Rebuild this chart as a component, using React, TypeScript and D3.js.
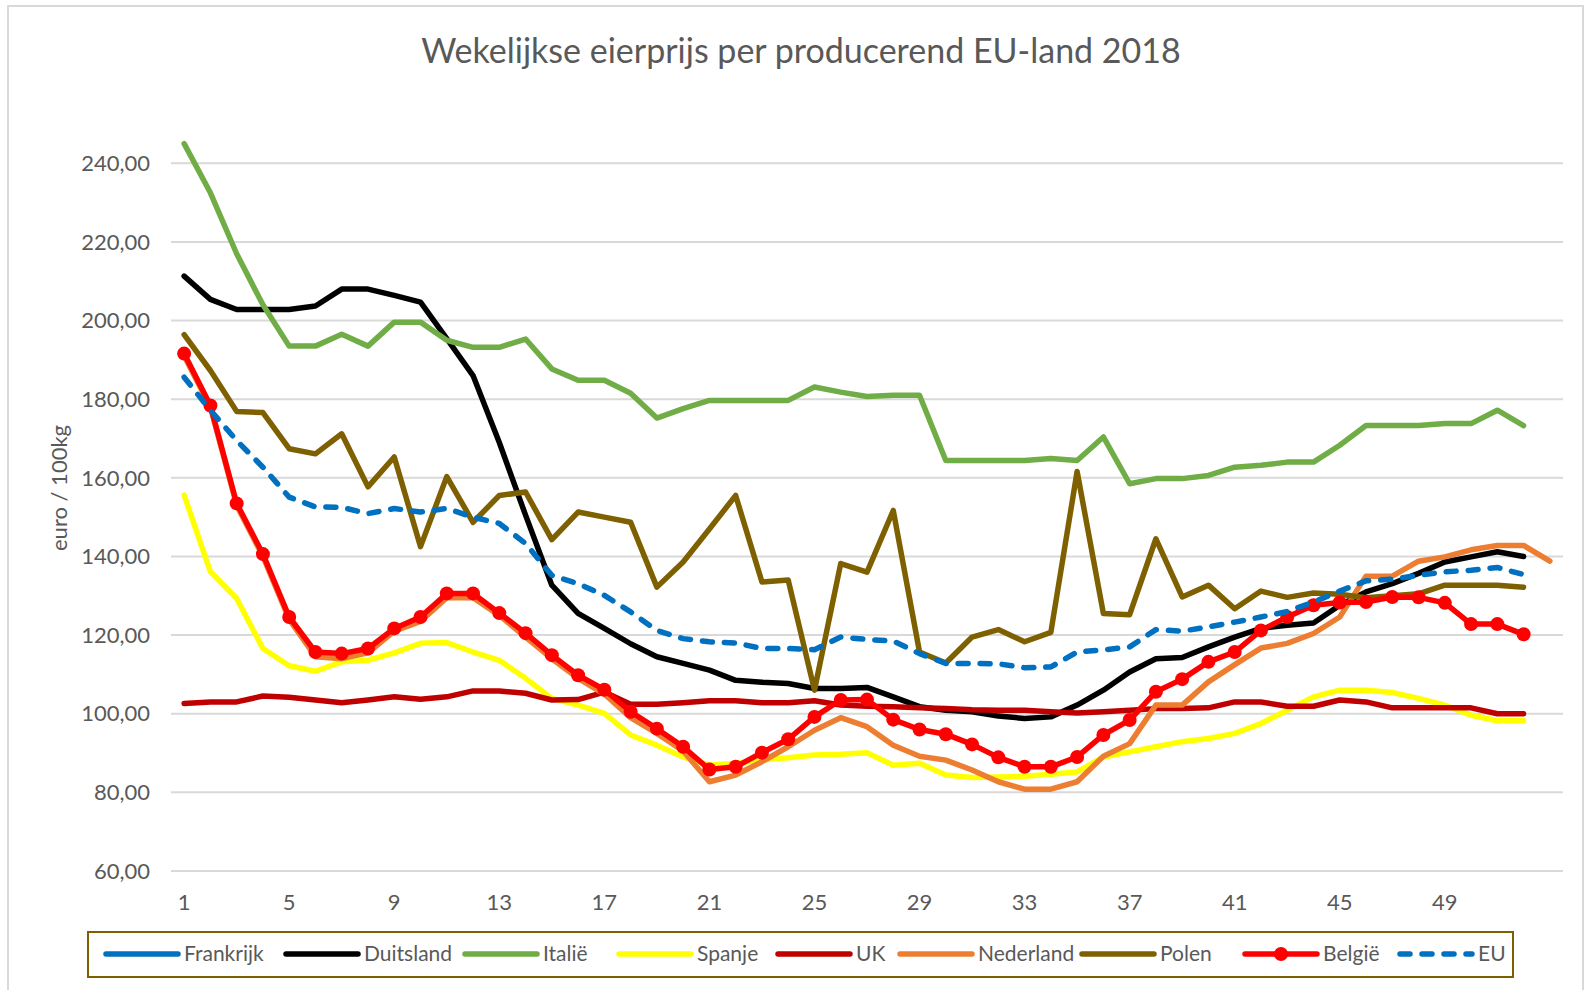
import React from "react";
import * as d3 from "d3";

const WIDTH = 1585;
const HEIGHT = 990;

// weken 1..53 (categorie-as)
const weeks = d3.range(1, 54);
const weekTicks = [1, 5, 9, 13, 17, 21, 25, 29, 33, 37, 41, 45, 49];
const yTicks = [60, 80, 100, 120, 140, 160, 180, 200, 220, 240];

const frankrijk: number[] = [];
const duitsland = [211.3, 205.4, 202.8, 202.8, 202.8, 203.7, 208, 208, 206.4, 204.7, 195.4, 186, 169, 150.5, 132.7, 125.5, 121.7, 117.8, 114.5, 112.8, 111.1, 108.5, 108, 107.7, 106.4, 106.4, 106.7, 104.3, 101.8, 100.9, 100.5, 99.4, 98.8, 99.2, 102.2, 106, 110.6, 114, 114.3, 117, 119.5, 121.7, 122.5, 123.1, 127.6, 131, 133.1, 135.7, 138.6, 139.9, 141.2, 140];
const italie = [245, 232.5, 217, 204, 193.5, 193.5, 196.5, 193.5, 199.6, 199.6, 195, 193.2, 193.2, 195.3, 187.7, 184.8, 184.8, 181.5, 175.2, 177.6, 179.7, 179.7, 179.7, 179.7, 183.1, 181.8, 180.7, 181, 181, 164.4, 164.4, 164.4, 164.4, 164.9, 164.4, 170.4, 158.5, 159.8, 159.8, 160.6, 162.7, 163.2, 164, 164, 168.3, 173.3, 173.3, 173.3, 173.8, 173.8, 177.2, 173.3];
const spanje = [155.6, 136.1, 129.3, 116.6, 112.2, 110.8, 113.2, 113.6, 115.5, 117.9, 118.1, 115.7, 113.6, 109, 103.9, 102.2, 100.1, 94.6, 92, 89, 86.9, 87.4, 88.2, 88.8, 89.5, 89.7, 90.1, 86.9, 87.4, 84.4, 83.8, 83.9, 84.1, 84.6, 85.2, 89, 90.3, 91.6, 92.9, 93.7, 95, 97.5, 100.9, 104.3, 106, 106, 105.4, 103.9, 102.2, 99.6, 98.2, 98.2];
const uk = [102.6, 103, 103, 104.5, 104.2, 103.5, 102.8, 103.5, 104.3, 103.7, 104.3, 105.8, 105.8, 105.2, 103.5, 103.6, 105.5, 102.4, 102.4, 102.8, 103.3, 103.3, 102.8, 102.8, 103.3, 102.2, 101.9, 101.8, 101.5, 101.3, 101, 100.9, 100.9, 100.5, 100.2, 100.5, 100.9, 101.3, 101.3, 101.5, 103, 103, 101.9, 101.9, 103.5, 103, 101.5, 101.5, 101.5, 101.5, 100, 100];
const nederland = [191, 178, 153, 140, 124, 114.5, 114, 115.5, 121, 123.5, 129.5, 129.5, 125, 119.5, 114, 109, 105, 99, 95, 90.5, 82.7, 84.4, 87.8, 91.6, 95.8, 99, 96.7, 92, 89.2, 88.2, 85.7, 82.7, 80.8, 80.8, 82.7, 89.2, 92.4, 102.2, 102.2, 108.1, 112.5, 116.7, 117.9, 120.4, 124.6, 135, 135, 138.8, 139.9, 141.7, 142.8, 142.8, 138.8];
const polen = [196.4, 187.3, 176.9, 176.6, 167.4, 166.1, 171.2, 157.7, 165.3, 142.5, 160.3, 148.7, 155.5, 156.4, 144.3, 151.3, 150, 148.7, 132.2, 138.6, 147, 155.5, 133.5, 134, 106, 138.2, 136, 151.7, 115.7, 112.9, 119.5, 121.4, 118.3, 120.7, 161.6, 125.5, 125.2, 144.5, 129.7, 132.7, 126.7, 131.2, 129.6, 130.7, 130.4, 129.5, 130, 130.5, 132.7, 132.7, 132.7, 132.2];
const belgie = [191.6, 178.4, 153.5, 140.6, 124.6, 115.7, 115.3, 116.6, 121.7, 124.6, 130.6, 130.6, 125.6, 120.5, 114.9, 109.8, 106.1, 100.5, 96.2, 91.6, 85.8, 86.5, 90.1, 93.5, 99.2, 103.5, 103.6, 98.5, 96, 94.8, 92.2, 88.9, 86.5, 86.5, 89, 94.6, 98.4, 105.6, 108.8, 113.2, 115.7, 121.2, 124.6, 127.6, 128.3, 128.4, 129.7, 129.6, 128.2, 122.8, 122.8, 120.2];
const eu = [185.6, 177.2, 169.5, 162.7, 155.1, 152.6, 152.5, 150.9, 152.2, 151.3, 152.2, 150, 148.4, 143.3, 135.2, 133.1, 130.1, 125.9, 121.2, 119.1, 118.3, 118, 116.6, 116.6, 116.3, 119.5, 118.9, 118.5, 115.3, 112.8, 112.8, 112.7, 111.7, 111.9, 115.7, 116.2, 117, 121.4, 121, 122.1, 123.3, 124.6, 126, 128.4, 131.2, 133.8, 134.2, 135.2, 136.1, 136.5, 137.2, 135.4];

const series = [
  { name: "Frankrijk", color: "#0070C0", values: frankrijk },
  { name: "Duitsland", color: "#000000", values: duitsland },
  { name: "Italië", color: "#70AD47", values: italie },
  { name: "Spanje", color: "#FFFF00", values: spanje },
  { name: "UK", color: "#C00000", values: uk },
  { name: "Nederland", color: "#ED7D31", values: nederland },
  { name: "Polen", color: "#7F6000", values: polen },
  { name: "België", color: "#FF0000", values: belgie, marker: true },
  { name: "EU", color: "#0070C0", values: eu, dashed: true },
];

// legenda-indeling (startpunt van elk lijntje)
const legendX = [106, 286, 465, 619, 778, 900, 1082, 1245, 1400];

const FONT = "Lato, 'Open Sans', sans-serif";
const TEXT = "#595959";
const DASH = "10 12";

export default function App() {
  const x = d3.scalePoint<number>().domain(weeks).range([171, 1563]).padding(0.5);
  const y = d3.scaleLinear().domain([60, 240]).range([871, 163.3]);
  const fmt = (v: number) => d3.format(".2f")(v).replace(".", ",");

  const line = d3
    .line<number>()
    .x((d, i) => x(i + 1) as number)
    .y((d) => y(d));

  return (
    <svg
      width={WIDTH}
      height={HEIGHT}
      style={{ position: "absolute", left: 0, top: 0, background: "#fff" }}
      fontFamily={FONT}
    >
      <rect x={8} y={6} width={1575} height={1000} fill="#fff" stroke="#D9D9D9" strokeWidth={2} />

      <text x={801} y={63} textAnchor="middle" fontSize={34} fill={TEXT}>
        Wekelijkse eierprijs per producerend EU-land 2018
      </text>

      {/* rasterlijnen */}
      {yTicks.map((t) => (
        <g key={t}>
          <line x1={171} x2={1563} y1={y(t)} y2={y(t)} stroke="#D9D9D9" strokeWidth={2} />
          <text x={150} y={y(t)} dy="0.35em" textAnchor="end" fontSize={22} fill={TEXT}>
            {fmt(t)}
          </text>
        </g>
      ))}

      {weekTicks.map((w) => (
        <text key={w} x={x(w)} y={910} textAnchor="middle" fontSize={22} fill={TEXT}>
          {w}
        </text>
      ))}

      <text
        transform="translate(67,488) rotate(-90)"
        textAnchor="middle"
        fontSize={22}
        fill={TEXT}
      >
        euro / 100kg
      </text>

      {series.map((s) =>
        s.values.length ? (
          <g key={s.name}>
            <path
              d={line(s.values) || ""}
              fill="none"
              stroke={s.color}
              strokeWidth={5.5}
              strokeLinejoin="round"
              strokeLinecap="round"
              strokeDasharray={s.dashed ? DASH : undefined}
            />
            {s.marker &&
              s.values.map((v, i) => (
                <circle key={i} cx={x(i + 1)} cy={y(v)} r={7} fill={s.color} />
              ))}
          </g>
        ) : null
      )}

      {/* legenda */}
      <rect x={88} y={932} width={1425} height={45} fill="#fff" stroke="#7F6000" strokeWidth={2} />
      {series.map((s, i) => {
        const lx = legendX[i];
        const cy = 954;
        return (
          <g key={s.name}>
            <line
              x1={lx}
              x2={lx + 72}
              y1={cy}
              y2={cy}
              stroke={s.color}
              strokeWidth={5.5}
              strokeLinecap="round"
              strokeDasharray={s.dashed ? DASH : undefined}
            />
            {s.marker && <circle cx={lx + 36} cy={cy} r={7} fill={s.color} />}
            <text x={lx + 78} y={cy} dy="0.35em" fontSize={21} fill={TEXT}>
              {s.name}
            </text>
          </g>
        );
      })}
    </svg>
  );
}
